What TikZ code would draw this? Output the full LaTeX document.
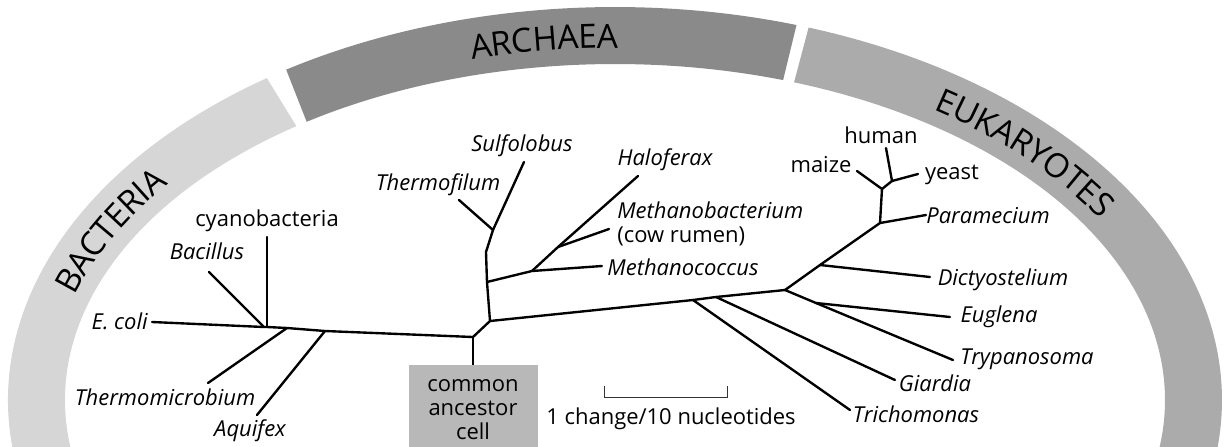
\documentclass[tikz,border=0pt]{standalone}
\usepackage{fontspec}
\setmainfont{Open Sans}
\usetikzlibrary{positioning, decorations.text}
\newcommand{\bandfont}{\fontsize{19}{19}\selectfont}
\tikzset{
  branch/.style={line width=1.35pt, line cap=round, line join=round},
  taxon/.style={font=\fontsize{12.5}{13.6}\selectfont\itshape, inner sep=0pt},
  taxonup/.style={font=\fontsize{12.5}{13.6}\selectfont, inner sep=0pt},
  bandbacteria/.style={fill=black!16},
  bandarchaea/.style={fill=black!46},
  bandeukarya/.style={fill=black!33},
  ancestorbox/.style={fill=black!28, align=center, inner sep=0pt,
    font=\fontsize{12.5}{13.6}\selectfont,
    minimum width=25.8mm, minimum height=18mm},
  scalebar/.style={line width=0.5pt, black!80},
}

\begin{document}
\begin{tikzpicture}[x=0.2mm, y=-0.2mm]
  \useasboundingbox (0,0) rectangle (1232,446);
  \clip (0,0) rectangle (1232,446);

  % ---- DOMAIN BANDS ----
  \begin{scope}[shift={(615,400)}]
    \fill[bandbacteria] (-195:607 and 393)
      arc[start angle=-195, end angle=-125, x radius=607, y radius=393]
      -- (-125.4:550 and 336)
      arc[start angle=-125.4, end angle=-195, x radius=550, y radius=336]
      -- cycle;
    \fill[bandarchaea] (-122.8:607 and 393)
      arc[start angle=-122.8, end angle=-72.6, x radius=607, y radius=393]
      -- (-72.2:550 and 336)
      arc[start angle=-72.2, end angle=-124.1, x radius=550, y radius=336]
      -- cycle;
    \fill[bandeukarya] (-71.4:607 and 393)
      arc[start angle=-71.4, end angle=20, x radius=607, y radius=393]
      -- (20:550 and 336)
      arc[start angle=20, end angle=-71, x radius=550, y radius=336]
      -- cycle;

    % band titles
    \path[decorate, decoration={text along path, text align=center,
      raise=-2.4mm, text={|\bandfont|BACTERIA}}]
      (-175.5:578 and 364)
      arc[start angle=-175.5, end angle=-131.5, x radius=578, y radius=364];
    \path[decorate, decoration={text along path, text align=center,
      raise=-2.4mm, text={|\bandfont|ARCHAEA}}]
      (-123:578 and 364)
      arc[start angle=-123, end angle=-72, x radius=578, y radius=364];
    \path[decorate, decoration={text along path, text align=center,
      raise=-2.4mm, text={|\bandfont|EUKARYOTES}}]
      (-61:578 and 364)
      arc[start angle=-61, end angle=-25, x radius=578, y radius=364];
  \end{scope}

  % ---- TREE POINTS ----
  \coordinate (ecoliend) at (152,322);
  \coordinate (bacj) at (264,327);
  \coordinate (bacillusend) at (209,272);
  \coordinate (cyanoj) at (267,327);
  \coordinate (cyanoend) at (267,237);
  \coordinate (thmj) at (287,328);
  \coordinate (thmend) at (208,383);
  \coordinate (aqj) at (325,331);
  \coordinate (aqend) at (257,415);
  \coordinate (root) at (473,337);
  \coordinate (archj) at (490,321);
  \coordinate (methj) at (487,282);
  \coordinate (stemtop) at (486,252);
  \coordinate (thfj) at (493,230);
  \coordinate (thfend) at (459,200);
  \coordinate (sulfend) at (524,162);
  \coordinate (mcj) at (532,271);
  \coordinate (mcend) at (602,266);
  \coordinate (mbj) at (558,247);
  \coordinate (mbend) at (609,229);
  \coordinate (hfend) at (638,176);
  \coordinate (trichj) at (693,300);
  \coordinate (trichend) at (850,410);
  \coordinate (giarj) at (716,297);
  \coordinate (giarend) at (895,380);
  \coordinate (eukj) at (785,290);
  \coordinate (dictj) at (820,265);
  \coordinate (dictend) at (930,277);
  \coordinate (paraj) at (880,223);
  \coordinate (paraend) at (926,215);
  \coordinate (crownj) at (882,189);
  \coordinate (maizeend) at (857,171);
  \coordinate (hyj) at (892,181);
  \coordinate (humanend) at (886,148);
  \coordinate (yeastend) at (918,174);
  \coordinate (eugj) at (816,303);
  \coordinate (eugend) at (950,317);
  \coordinate (trypend) at (953,360);

  % ---- BRANCHES ----
  \draw[branch] (ecoliend) -- (bacj) -- (cyanoj) -- (thmj) -- (aqj) -- (root);
  \draw[branch] (bacillusend) -- (bacj);
  \draw[branch] (cyanoend) -- (cyanoj);
  \draw[branch] (thmj) -- (thmend);
  \draw[branch] (aqj) -- (aqend);
  \draw[branch] (root) -- (archj) -- (methj) -- (stemtop) -- (thfj) -- (sulfend);
  \draw[branch] (thfj) -- (thfend);
  \draw[branch] (methj) -- (mcj) -- (mcend);
  \draw[branch] (mcj) -- (mbj) -- (hfend);
  \draw[branch] (mbj) -- (mbend);
  \draw[branch] (archj) -- (trichj) -- (giarj) -- (eukj);
  \draw[branch] (trichj) -- (trichend);
  \draw[branch] (giarj) -- (giarend);
  \draw[branch] (eukj) -- (dictj) -- (paraj) -- (crownj) -- (hyj) -- (humanend);
  \draw[branch] (dictj) -- (dictend);
  \draw[branch] (paraj) -- (paraend);
  \draw[branch] (crownj) -- (maizeend);
  \draw[branch] (hyj) -- (yeastend);
  \draw[branch] (eukj) -- (eugj) -- (trypend);
  \draw[branch] (eugj) -- (eugend);

  % ---- COMMON ANCESTOR ----
  \node[ancestorbox] (ancestor) at (473,410) {common\\ancestor\\cell};
  \draw[branch, line cap=butt] (root) -- (ancestor.north);

  % ---- LABELS ----
  \node[taxon, anchor=east] (ecoli) at (148,321) {E. coli};
  \node[taxonup] (cyano) at (267,221) {cyanobacteria};
  \node[taxon] (bacillus) at (207,251) {Bacillus};
  \node[taxon] (thermomicro) at (165,397) {Thermomicrobium};
  \node[taxon] (aquifex) at (250,431) {Aquifex};
  \node[taxon] (thermofilum) at (438,185) {Thermofilum};
  \node[taxon] (sulfolobus) at (522,146) {Sulfolobus};
  \node[taxon] (haloferax) at (665,160) {Haloferax};
  \node[taxonup, align=left, anchor=west] (methanobac) at (617,224)
    {\textit{Methanobacterium}\\(cow rumen)};
  \node[taxon] (methanococ) at (683,267) {Methanococcus};
  \node[taxonup] (maize) at (821,165) {maize};
  \node[taxonup] (human) at (881,135) {human};
  \node[taxonup] (yeast) at (952,175) {yeast};
  \node[taxon] (paramecium) at (988,216) {Paramecium};
  \node[taxon] (dictyo) at (1003,280) {Dictyostelium};
  \node[taxon] (euglena) at (999,317) {Euglena};
  \node[taxon] (trypano) at (1027,359) {Trypanosoma};
  \node[taxon] (giardia) at (935,383) {Giardia};
  \node[taxon] (trichomonas) at (916,414) {Trichomonas};

  % ---- SCALE ----
  \coordinate (scaleL) at (604,397);
  \coordinate (scaleR) at (727,397);
  \draw[scalebar] ([yshift=2.2mm]scaleL) -- (scaleL) -- (scaleR) -- ([yshift=2.2mm]scaleR);
  \node[taxonup] (scalelabel) at (671,419) {1 change/10 nucleotides};
\end{tikzpicture}
\end{document}
